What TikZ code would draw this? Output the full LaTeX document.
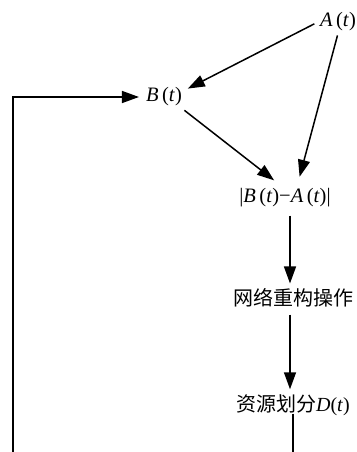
\documentclass[tikz,border=0pt]{standalone}
\usepackage{fontspec}
\newfontfamily\cjk{Noto Sans CJK SC}
\newfontfamily\tms{Liberation Serif}
\usetikzlibrary{arrows.meta}
\newcommand{\vi}[1]{\textit{#1}}
\begin{document}
\begin{tikzpicture}[x=1pt,y=-1pt,
  lbl/.style={inner sep=2pt,font=\fontsize{20.5}{24}\selectfont\tms},
  cn/.style={inner sep=2pt,font=\fontsize{20}{24}\selectfont\cjk},
  arr/.style={line width=1.5pt,-{Triangle[length=17pt,width=12pt]}}]
\clip (0,0) rectangle (356,452);
\node[lbl] (A) at (338,22) {\vi{A}\,(\vi{t})};
\node[lbl] (B) at (164,97) {\vi{B}\,(\vi{t})};
\node[lbl] (diff) at (285,198) {|\vi{B}\,(\vi{t})−\vi{A}\,(\vi{t})|};
\node[cn] (net) at (293,298) {网络重构操作};
\node[cn] (res) at (293,405) {资源划分{\tms\vi{D}(\vi{t})}};
\coordinate (fbR) at (293,480);
\coordinate (fbL) at (13,480);
\draw[arr,shorten <=4pt,shorten >=2pt] (A.west) -- ([xshift=2pt,yshift=-4pt]B.north east);
\draw[arr,shorten <=2pt,shorten >=10pt] (A.south) -- ([xshift=12pt]diff.north);
\draw[arr,shorten <=3pt,shorten >=10pt] ([xshift=-2pt]B.south east) -- ([xshift=-3pt]diff.north);
\draw[arr,shorten <=6pt,shorten >=3pt] ([xshift=-3pt]net.north |- diff.south) -- ([xshift=-3pt]net.north);
\draw[arr,shorten <=5pt,shorten >=3pt] ([xshift=-3pt]net.south) -- ([xshift=-3pt]res.north);
\draw[arr,shorten >=5pt] ([yshift=4pt]res.south) -- (fbR) -- (fbL) |- (B.west);
\end{tikzpicture}
\end{document}
